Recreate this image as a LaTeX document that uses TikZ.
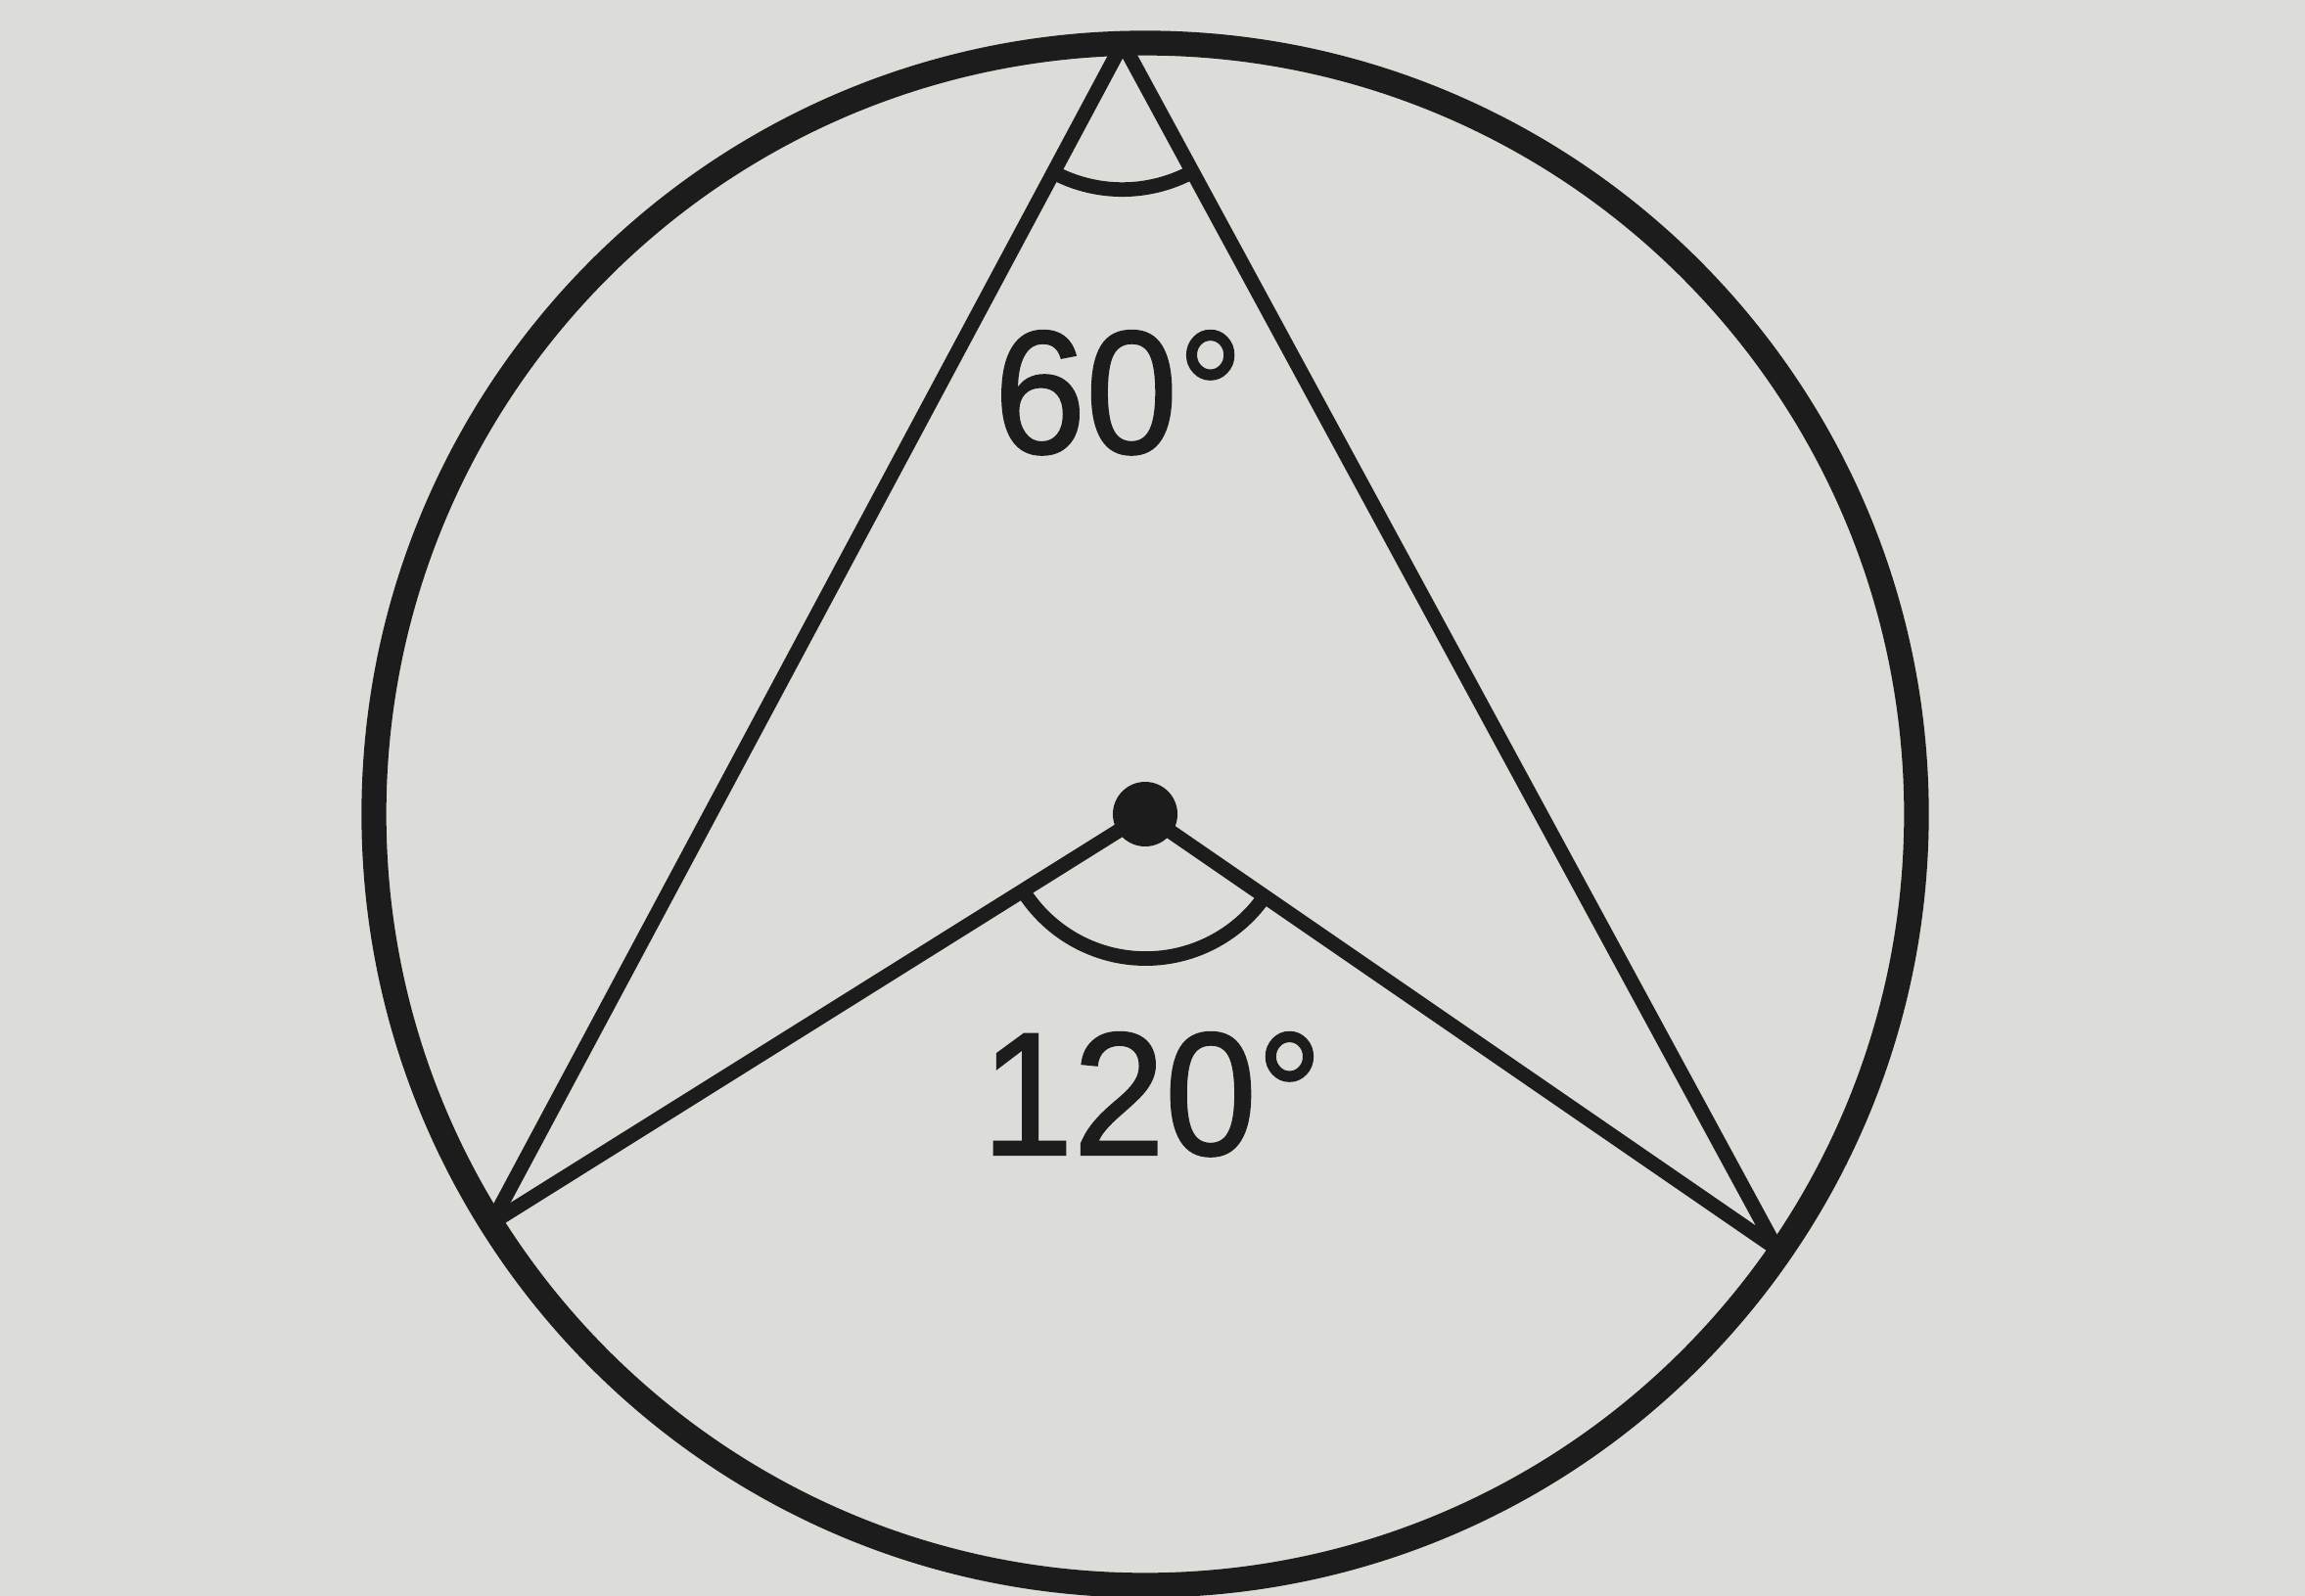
\documentclass[tikz,border=0pt]{standalone}
\usepackage{fontspec}
\usepackage[svgnames]{xcolor}
\usepackage{tikz}
\newfontfamily\degfont{Liberation Sans}[FakeStretch=0.94,FakeBold=1.2]
\definecolor{Ink}{RGB}{28,28,28}
\definecolor{Paper}{RGB}{220,220,216}
\tikzstyle{none}=[inner sep=0pt]
\tikzstyle{rim}=[draw=Ink,line width=7.2pt]
\tikzstyle{chord}=[draw=Ink,line width=4.2pt]
\tikzstyle{arcmark}=[draw=Ink,line width=4.2pt]
\tikzstyle{deg}=[inner sep=0pt,anchor=base,text=Ink,font=\degfont\fontsize{51}{51}\selectfont]

\begin{document}
\begin{tikzpicture}
 \fill [Paper] (0, 0) rectangle (23.55, -16.31);
 \useasboundingbox (0, 0) rectangle (23.55, -16.31);
 \node [style=none] (0) at (11.70, -8.32) {};                     
 \node [style=none] (1) at (11.47, -0.44) {};                     
 \node [style=none] (2) at (5.02, -12.50) {};                     
 \node [style=none] (3) at (18.15, -12.76) {};                    
 \node [style=none] (4) at (10.76, -1.76) {};                     
 \node [style=none] (5) at (10.45, -9.10) {};                     
 \node [style=deg] (6) at (11.43, -4.63) {60°};                  
 \node [style=deg] (7) at (11.77, -11.80) {120°};                
 \draw [style=rim] (0.center) circle (7.88);                      
 \draw [style=chord] (1.center) to (2.center);                    
 \draw [style=chord] (1.center) to (3.center);                    
 \draw [style=chord] (0.center) to (2.center);                    
 \draw [style=chord] (0.center) to (3.center);                    
 \draw [style=arcmark] (4.center) arc (241.9:298.5:1.5);          
 \draw [style=arcmark] (5.center) arc (212:325.5:1.48);           
 \fill [Ink] (0.center) circle (0.33);                            
\end{tikzpicture}
\end{document}
